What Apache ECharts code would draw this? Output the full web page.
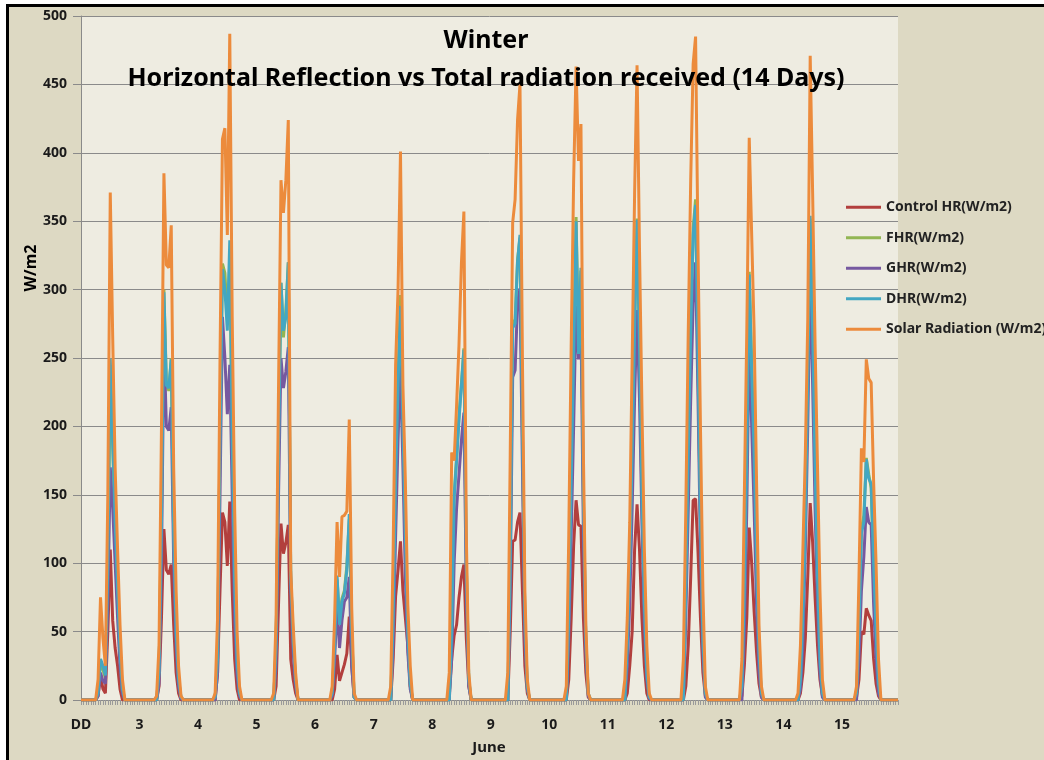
<!DOCTYPE html>
<html>
<head>
<meta charset="utf-8">
<script src="https://cdn.jsdelivr.net/npm/echarts@6/dist/echarts.min.js"></script>
<style>
    html, body { margin: 0; padding: 0; background: #fff; }
    #chart { width: 1044px; height: 760px; }
</style>
</head>
<body>
<div id="chart"></div>
<script>
// tick labels for the start of each day (hourly data, 24 points per day)
const dayLabels = ['DD', '3', '4', '5', '6', '7', '8', '9', '10', '11', '12', '13', '14', '15'];

// one row per day, hours 0..23
const controlHR = [
    0,0,0,0,0,0, 0,3,18,8,5,50,110,58,38,25,8,0, 0,0,0,0,0,0,
    0,0,0,0,0,0, 0,0,10,60,125,95,92,99,55,20,5,0, 0,0,0,0,0,0,
    0,0,0,0,0,0, 0,0,20,80,137,130,98,145,80,30,8,0, 0,0,0,0,0,0,
    0,0,0,0,0,0, 0,0,10,70,129,107,115,128,30,15,5,0, 0,0,0,0,0,0,
    0,0,0,0,0,0, 0,0,8,33,14,20,26,34,61,25,2,0, 0,0,0,0,0,0,
    0,0,0,0,0,0, 0,0,30,76,95,116,80,60,40,10,0,0, 0,0,0,0,0,0,
    0,0,0,0,0,0, 0,5,30,47,55,75,90,99,45,10,0,0, 0,0,0,0,0,0,
    0,0,0,0,0,0, 0,0,50,116,117,130,137,80,25,5,0,0, 0,0,0,0,0,0,
    0,0,0,0,0,0, 0,0,15,60,113,146,128,127,60,20,2,0, 0,0,0,0,0,0,
    0,0,0,0,0,0, 0,0,5,25,50,110,143,110,60,25,5,0, 0,0,0,0,0,0,
    0,0,0,0,0,0, 0,0,10,40,90,146,147,108,60,20,3,0, 0,0,0,0,0,0,
    0,0,0,0,0,0, 0,3,25,60,126,100,65,35,12,2,0,0, 0,0,0,0,0,0,
    0,0,0,0,0,0, 0,5,20,45,90,144,115,75,40,15,3,0, 0,0,0,0,0,0,
    0,0,0,0,0,0, 2,15,50,48,67,62,58,30,12,3,0,0, 0,0,0,0,0,0
];

const fhr = [
    0,0,0,0,0,0, 0,5,28,22,16,95,240,185,125,75,30,6, 0,0,0,0,0,0,
    0,0,0,0,0,0, 0,0,20,140,300,233,226,250,118,48,14,2, 0,0,0,0,0,0,
    0,0,0,0,0,0, 0,2,30,195,319,312,280,320,185,80,25,4, 0,0,0,0,0,0,
    0,0,0,0,0,0, 0,0,40,185,305,265,285,320,88,42,14,0, 0,0,0,0,0,0,
    0,0,0,0,0,0, 0,5,38,88,60,74,80,98,132,48,2,0, 0,0,0,0,0,0,
    0,0,0,0,0,0, 0,0,62,165,235,296,205,118,48,10,0,0, 0,0,0,0,0,0,
    0,0,0,0,0,0, 0,0,52,150,178,208,232,257,98,14,0,0, 0,0,0,0,0,0,
    0,0,0,0,0,0, 0,0,102,276,278,322,338,195,58,9,0,0, 0,0,0,0,0,0,
    0,0,0,0,0,0, 0,0,62,165,255,353,265,314,145,42,4,0, 0,0,0,0,0,0,
    0,0,0,0,0,0, 0,0,42,105,185,275,352,255,145,65,18,2, 0,0,0,0,0,0,
    0,0,0,0,0,0, 0,0,82,185,275,345,366,245,125,42,4,0, 0,0,0,0,0,0,
    0,0,0,0,0,0, 0,10,82,185,313,245,185,100,33,4,0,0, 0,0,0,0,0,0,
    0,0,0,0,0,0, 0,15,62,135,235,352,268,168,88,28,4,0, 0,0,0,0,0,0,
    0,0,0,0,0,0, 5,52,125,135,177,165,155,98,48,10,0,0, 0,0,0,0,0,0
];

const ghr = [
    0,0,0,0,0,0, 0,3,20,14,12,70,170,140,100,60,25,5, 0,0,0,0,0,0,
    0,0,0,0,0,0, 0,0,12,100,265,200,197,214,100,40,10,1, 0,0,0,0,0,0,
    0,0,0,0,0,0, 0,0,20,150,280,250,209,245,150,60,18,3, 0,0,0,0,0,0,
    0,0,0,0,0,0, 0,0,25,150,250,228,240,258,80,35,10,0, 0,0,0,0,0,0,
    0,0,0,0,0,0, 0,3,30,70,38,58,72,75,90,25,2,0, 0,0,0,0,0,0,
    0,0,0,0,0,0, 0,0,40,120,190,245,170,90,35,8,0,0, 0,0,0,0,0,0,
    0,0,0,0,0,0, 0,0,30,100,140,165,190,210,80,10,0,0, 0,0,0,0,0,0,
    0,0,0,0,0,0, 0,0,80,236,241,290,301,170,45,8,0,0, 0,0,0,0,0,0,
    0,0,0,0,0,0, 0,0,45,120,200,288,249,278,120,35,3,0, 0,0,0,0,0,0,
    0,0,0,0,0,0, 0,0,25,70,140,220,285,220,130,55,15,1, 0,0,0,0,0,0,
    0,0,0,0,0,0, 0,0,60,140,220,290,320,220,110,35,2,0, 0,0,0,0,0,0,
    0,0,0,0,0,0, 0,0,50,140,266,200,140,70,20,2,0,0, 0,0,0,0,0,0,
    0,0,0,0,0,0, 0,8,40,110,200,311,230,140,70,20,2,0, 0,0,0,0,0,0,
    0,0,0,0,0,0, 0,30,80,105,141,130,128,70,30,5,0,0, 0,0,0,0,0,0
];

const dhr = [
    0,0,0,0,0,0, 0,5,30,25,18,100,250,190,130,80,35,8, 0,0,0,0,0,0,
    0,0,0,0,0,0, 0,0,20,130,298,230,228,249,120,50,15,2, 0,0,0,0,0,0,
    0,0,0,0,0,0, 0,2,30,190,315,300,270,336,190,85,28,5, 0,0,0,0,0,0,
    0,0,0,0,0,0, 0,0,40,180,305,270,280,320,90,45,15,0, 0,0,0,0,0,0,
    0,0,0,0,0,0, 0,5,40,91,55,72,78,95,136,50,2,0, 0,0,0,0,0,0,
    0,0,0,0,0,0, 0,0,60,160,230,288,200,120,50,12,0,0, 0,0,0,0,0,0,
    0,0,0,0,0,0, 0,0,50,148,175,205,230,256,100,15,0,0, 0,0,0,0,0,0,
    0,0,0,0,0,0, 0,0,100,272,275,320,340,200,60,10,0,0, 0,0,0,0,0,0,
    0,0,0,0,0,0, 0,0,60,160,250,350,253,316,150,45,5,0, 0,0,0,0,0,0,
    0,0,0,0,0,0, 0,0,40,100,180,270,351,260,150,70,20,2, 0,0,0,0,0,0,
    0,0,0,0,0,0, 0,0,80,180,270,340,362,250,130,45,5,0, 0,0,0,0,0,0,
    0,0,0,0,0,0, 0,10,80,180,311,240,180,100,35,5,0,0, 0,0,0,0,0,0,
    0,0,0,0,0,0, 0,15,60,130,230,354,270,170,90,30,5,0, 0,0,0,0,0,0,
    0,0,0,0,0,0, 5,50,122,130,176,162,158,100,50,12,0,0, 0,0,0,0,0,0
];

const solarRadiation = [
    0,0,0,0,0,0, 0,15,75,45,25,150,371,265,170,110,55,15, 0,0,0,0,0,0,
    0,0,0,0,0,0, 0,3,40,200,385,318,316,347,170,80,25,3, 0,0,0,0,0,0,
    0,0,0,0,0,0, 0,5,60,250,410,418,340,487,280,140,50,10, 0,0,0,0,0,0,
    0,0,0,0,0,0, 0,5,60,230,380,356,380,424,95,55,20,0, 0,0,0,0,0,0,
    0,0,0,0,0,0, 0,10,60,130,90,134,135,138,205,68,5,0, 0,0,0,0,0,0,
    0,0,0,0,0,0, 0,10,110,245,300,401,230,160,70,25,0,0, 0,0,0,0,0,0,
    0,0,0,0,0,0, 0,20,181,175,215,260,320,357,120,20,0,0, 0,0,0,0,0,0,
    0,0,0,0,0,0, 0,20,180,349,366,424,450,250,80,15,0,0, 0,0,0,0,0,0,
    0,0,0,0,0,0, 0,10,120,260,380,463,394,421,180,55,5,0, 0,0,0,0,0,0,
    0,0,0,0,0,0, 0,15,60,130,250,370,464,330,215,110,40,5, 0,0,0,0,0,0,
    0,0,0,0,0,0, 0,30,140,270,380,465,485,330,200,80,10,0, 0,0,0,0,0,0,
    0,0,0,0,0,0, 0,30,150,270,411,340,270,160,55,10,0,0, 0,0,0,0,0,0,
    0,0,0,0,0,0, 5,40,110,180,278,471,370,260,170,80,15,0, 0,0,0,0,0,0,
    0,0,0,0,0,0, 10,90,184,174,249,235,232,160,100,30,0,0, 0,0,0,0,0,0
];

const seriesNames = ['Control HR(W/m2)', 'FHR(W/m2)', 'GHR(W/m2)', 'DHR(W/m2)', 'Solar Radiation (W/m2)'];
const seriesColors = ['#b23f3d', '#92b653', '#7659a0', '#43a7c2', '#ec8b3c'];

const FONT = '"Noto Sans", "DejaVu Sans", sans-serif';

// hour index used as the category of each point
const hours = solarRadiation.map((v, i) => String(i));

const chart = echarts.init(document.getElementById('chart'));

const option = {
    animation: false,
    backgroundColor: '#ddd9c3',
    textStyle: { fontFamily: FONT },
    grid: {
        left: 81,
        right: 146,
        top: 16,
        bottom: 60,
        show: true,
        backgroundColor: '#eeece1',
        borderWidth: 0
    },
    legend: {
        orient: 'vertical',
        left: 846,
        top: 199,
        padding: 0,
        icon: 'rect',
        itemWidth: 35,
        itemHeight: 3,
        itemGap: 14,
        data: seriesNames,
        textStyle: {
            fontFamily: FONT,
            fontSize: 14,
            fontWeight: 'bold',
            color: '#222',
            lineHeight: 16.5
        }
    },
    xAxis: {
        type: 'category',
        data: hours,
        boundaryGap: false,
        axisLine: { lineStyle: { color: '#8a8a8a', width: 1 } },
        axisTick: {
            show: true,
            interval: 0,
            length: 5,
            lineStyle: { color: '#9a9a9a' }
        },
        axisLabel: {
            interval: 23,
            margin: 18,
            fontSize: 14,
            fontWeight: 'bold',
            color: '#1a1a1a',
            formatter: (v, i) => dayLabels[Math.round(i / 24)] || ''
        },
        splitLine: { show: false }
    },
    yAxis: {
        type: 'value',
        min: 0,
        max: 500,
        interval: 50,
        axisLine: { show: true, lineStyle: { color: '#8a8a8a' } },
        axisTick: { show: true, length: 8, lineStyle: { color: '#8a8a8a' } },
        axisLabel: {
            margin: 14,
            fontSize: 14,
            fontWeight: 'bold',
            color: '#1a1a1a'
        },
        splitLine: { lineStyle: { color: '#8a8a8a', width: 1 } }
    },
    series: seriesNames.map((name, k) => ({
        name: name,
        type: 'line',
        data: [controlHR, fhr, ghr, dhr, solarRadiation][k],
        symbol: 'none',
        showSymbol: false,
        color: seriesColors[k],
        lineStyle: { width: 3, color: seriesColors[k] },
        emphasis: { disabled: true }
    })),
    graphic: [
        // white margin and black frame at top / left
        { type: 'rect', shape: { x: 0, y: 0, width: 1044, height: 4 }, style: { fill: '#fff' } },
        { type: 'rect', shape: { x: 0, y: 0, width: 6, height: 760 }, style: { fill: '#fff' } },
        { type: 'rect', shape: { x: 6, y: 4, width: 1038, height: 3 }, style: { fill: '#000' } },
        { type: 'rect', shape: { x: 6, y: 4, width: 3, height: 756 }, style: { fill: '#000' } },
        {
            type: 'text', x: 486, y: 41, z: 10,
            style: {
                text: 'Winter',
                textAlign: 'center', textVerticalAlign: 'middle',
                font: 'bold 25px ' + FONT, fill: '#000'
            }
        },
        {
            type: 'text', x: 486, y: 79, z: 10,
            style: {
                text: 'Horizontal Reflection vs Total radiation received (14 Days)',
                textAlign: 'center', textVerticalAlign: 'middle',
                font: 'bold 25px ' + FONT, fill: '#000'
            }
        },
        {
            type: 'text', x: 31, y: 268, rotation: Math.PI / 2,
            style: {
                text: 'W/m2',
                textAlign: 'center', textVerticalAlign: 'middle',
                font: 'bold 16px ' + FONT, fill: '#000'
            }
        },
        {
            type: 'text', x: 489, y: 748,
            style: {
                text: 'June',
                textAlign: 'center', textVerticalAlign: 'middle',
                font: 'bold 15px ' + FONT, fill: '#1a1a1a'
            }
        }
    ]
};

chart.setOption(option);
</script>
</body>
</html>
